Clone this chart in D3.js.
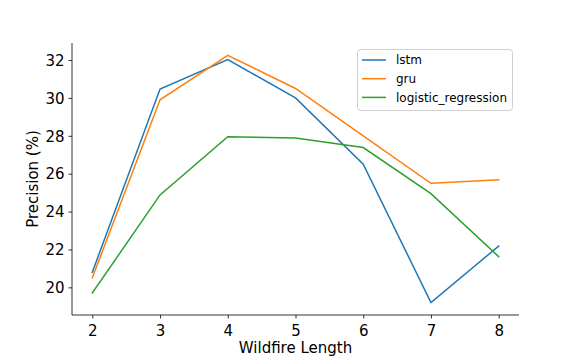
<!DOCTYPE html>
<html><head><meta charset="utf-8">
<script src="https://cdn.jsdelivr.net/npm/d3@7"></script>
<style>body{margin:0;background:#fff}svg{display:block;font-family:"DejaVu Sans",sans-serif}</style>
</head><body><svg id="c" width="576" height="360"></svg>
<script>
const xCategories = [2, 3, 4, 5, 6, 7, 8];
const lstm = [20.8, 30.47, 32.02, 30.0, 26.5, 19.2, 22.18];
const gru = [20.5, 29.9, 32.25, 30.5, 28.0, 25.49, 25.68];
const logisticRegression = [19.7, 24.88, 27.95, 27.88, 27.38, 24.95, 21.62];
const seriesNames = ["lstm", "gru", "logistic_regression"];
const seriesColors = ["#1f77b4", "#ff7f0e", "#2ca02c"];
const yTicks = [20, 22, 24, 26, 28, 30, 32];

const series = [lstm, gru, logisticRegression];
const svg = d3.select("#c");
const L = 72, R = 519, T = 43, B = 315;
const x = d3.scaleLinear().domain([1.7, 8.3]).range([L, R]);
const y = d3.scaleLinear().domain([18.54, 32.9]).range([B, T]);

const xa = svg.append("g").attr("transform", `translate(0,${B})`)
  .call(d3.axisBottom(x).tickValues(xCategories).tickSize(3.5).tickPadding(4).tickFormat(d3.format("d")));
const ya = svg.append("g").attr("transform", `translate(${L},0)`)
  .call(d3.axisLeft(y).tickValues(yTicks).tickSize(3.5).tickPadding(4).tickFormat(d3.format("d")));
[xa, ya].forEach(a => {
  a.selectAll("text").attr("font-size", 15).attr("fill", "#000").attr("font-family", "DejaVu Sans");
  a.selectAll("line").attr("stroke", "#000").attr("stroke-width", 0.8);
  a.select(".domain").remove();
});
xa.selectAll("text").attr("dy", "0.9em");
ya.selectAll("text").attr("dy", "0.35em");
svg.append("line").attr("x1", L).attr("x2", L).attr("y1", T).attr("y2", B).attr("stroke", "#000").attr("stroke-width", 0.8);
svg.append("line").attr("x1", L).attr("x2", R).attr("y1", B).attr("y2", B).attr("stroke", "#000").attr("stroke-width", 0.8);

const line = d3.line().x((d, i) => x(xCategories[i])).y(d => y(d));
series.forEach((s, k) => {
  svg.append("path").datum(s).attr("d", line).attr("fill", "none")
    .attr("stroke", seriesColors[k]).attr("stroke-width", 1.5).attr("stroke-linecap", "square");
});

svg.append("text").attr("x", (L + R) / 2).attr("y", 353).attr("text-anchor", "middle")
  .attr("font-size", 15).text("Wildfire Length");
svg.append("text").attr("transform", `translate(38,${(T + B) / 2}) rotate(-90)`).attr("text-anchor", "middle")
  .attr("font-size", 15).text("Precision (%)");

const lg = svg.append("g");
lg.append("rect").attr("x", 357.5).attr("y", 49.5).attr("width", 155).attr("height", 61).attr("rx", 3)
  .attr("fill", "#fff").attr("fill-opacity", 0.8).attr("stroke", "#d0d0d0").attr("stroke-width", 1);
seriesNames.forEach((n, k) => {
  const yy = 60 + k * 18.7;
  lg.append("line").attr("x1", 362).attr("x2", 386).attr("y1", yy).attr("y2", yy)
    .attr("stroke", seriesColors[k]).attr("stroke-width", 1.5);
  lg.append("text").attr("x", 396).attr("y", yy).attr("dy", "0.35em").attr("font-size", 12).text(n);
});
</script></body></html>
